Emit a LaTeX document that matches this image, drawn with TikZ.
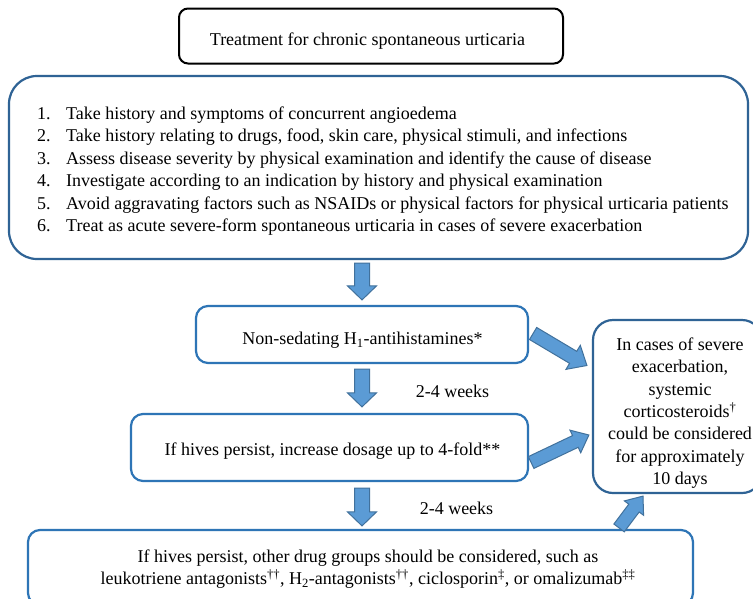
\documentclass[tikz,border=0pt]{standalone}
\usepackage{fontspec}
\setmainfont{Liberation Serif}
\usetikzlibrary{calc}
\definecolor{boxblue}{HTML}{2E75B6}
\definecolor{darkblue}{HTML}{2F6395}
\definecolor{arrowfill}{HTML}{5B9BD5}
\definecolor{arrowline}{HTML}{41719C}
\newcommand\myblockarrow[5]{%
  \coordinate (bn) at ($(#2)!#5!(#1)$);
  \draw[blockarrow] ($(#1)!#3!90:(#2)$) -- ($(bn)!#3!90:(#2)$) -- ($(bn)!#4!90:(#2)$) -- (#2)
    -- ($(bn)!#4!-90:(#2)$) -- ($(bn)!#3!-90:(#2)$) -- ($(#1)!#3!-90:(#2)$) -- cycle;}
\begin{document}
\begin{tikzpicture}[x=1pt,y=-1pt,
  font=\fontsize{18}{22.4}\selectfont,
  box/.style={draw=boxblue, line width=2.2pt, rounded corners=12pt, inner sep=0pt},
  darkbox/.style={draw=darkblue, line width=2.2pt, inner sep=0pt},
  txt/.style={inner sep=0pt, align=center},
  blockarrow/.style={fill=arrowfill, draw=arrowline, line width=1pt, line join=miter}]
\fill[white] (0,0) rectangle (753,598);
\useasboundingbox (0,0) rectangle (753,598);

% boxes
\node[draw=black, line width=2pt, rounded corners=9pt, minimum width=384pt, minimum height=55pt, inner sep=0pt]
  (title) at (371,36) {};
\node[darkbox, rounded corners=28pt, minimum width=739pt, minimum height=183pt] (bigbox) at (378.5,167.5) {};
\node[box, minimum width=332pt, minimum height=57pt] (nonsed) at (362,334.5) {};
\node[box, minimum width=397pt, minimum height=67pt] (dosage) at (329.5,447.5) {};
\node[box, minimum width=665pt, minimum height=75pt] (other) at (360.5,567.5) {};
\node[darkbox, rounded corners=20pt, minimum width=169pt, minimum height=173pt] (rbox) at (677.5,406.5) {};

% texts
\node[txt] (titletext) at (367.5,41) {Treatment for chronic spontaneous urticaria};
\node[anchor=west, align=left, inner sep=0pt] (steps) at (37,171) {%
\makebox[29pt][l]{1.}Take history and symptoms of concurrent angioedema\\
\makebox[29pt][l]{2.}Take history relating to drugs, food, skin care, physical stimuli, and infections\\
\makebox[29pt][l]{3.}Assess disease severity by physical examination and identify the cause of disease\\
\makebox[29pt][l]{4.}Investigate according to an indication by history and physical examination\\
\makebox[29pt][l]{5.}Avoid aggravating factors such as NSAIDs or physical factors for physical urticaria patients\\
\makebox[29pt][l]{6.}Treat as acute severe-form spontaneous urticaria in cases of severe exacerbation};
\node[txt] (nonsedtext) at (362.5,340.5) {Non-sedating H\textsubscript{1}-antihistamines*};
\node[txt] (dosagetext) at (332.5,451.5) {If hives persist, increase dosage up to 4-fold**};
\node[txt] (othertext) at (368,569) {If hives persist, other drug groups should be considered, such as\\
   leukotriene antagonists\textsuperscript{††}, H\textsubscript{2}-antagonists\textsuperscript{††}, ciclosporin\textsuperscript{‡}, or omalizumab\textsuperscript{‡‡}};
\node[txt] (rboxtext) at (680,413)
  {In cases of severe\\exacerbation,\\systemic\\corticosteroids\textsuperscript{†}\\could be considered\\for approximately\\10 days};

\node[txt] (w1) at (452.5,391) {2-4 weeks};
\node[txt] (w2) at (456.5,508) {2-4 weeks};

% arrows
\coordinate (d1s) at ($(bigbox.south -| nonsed.north)+(0,3)$);
\coordinate (d1e) at ($(nonsed.north)+(0,-5)$);
\coordinate (d2s) at ($(nonsed.south)+(0,5)$);
\coordinate (d2e) at ($(dosage.north -| nonsed.south)+(0,-6)$);
\coordinate (d3s) at ($(dosage.south -| nonsed.south)+(0,6)$);
\coordinate (d3e) at ($(other.north -| nonsed.south)+(0,-3)$);
\myblockarrow{d1s}{d1e}{7.5pt}{14.5pt}{14pt}
\myblockarrow{d2s}{d2e}{7.5pt}{14.5pt}{14pt}
\myblockarrow{d3s}{d3e}{7.5pt}{14.5pt}{14pt}

\coordinate (a1s) at ($(nonsed.east)+(4,-1)$);
\coordinate (a1e) at ($(rbox.west)+(-5,-41)$);
\coordinate (a2s) at ($(dosage.east)+(2,15)$);
\coordinate (a2e) at ($(rbox.west)+(-3,28.5)$);
\coordinate (a3s) at ($(other.north east)+(-75,-1)$);
\coordinate (a3e) at ($(rbox.south)+(-34.5,2)$);
\myblockarrow{a1s}{a1e}{7pt}{14pt}{16pt}
\myblockarrow{a2s}{a2e}{6.5pt}{12.5pt}{15pt}
\myblockarrow{a3s}{a3e}{6.5pt}{12pt}{15pt}
\end{tikzpicture}
\end{document}
